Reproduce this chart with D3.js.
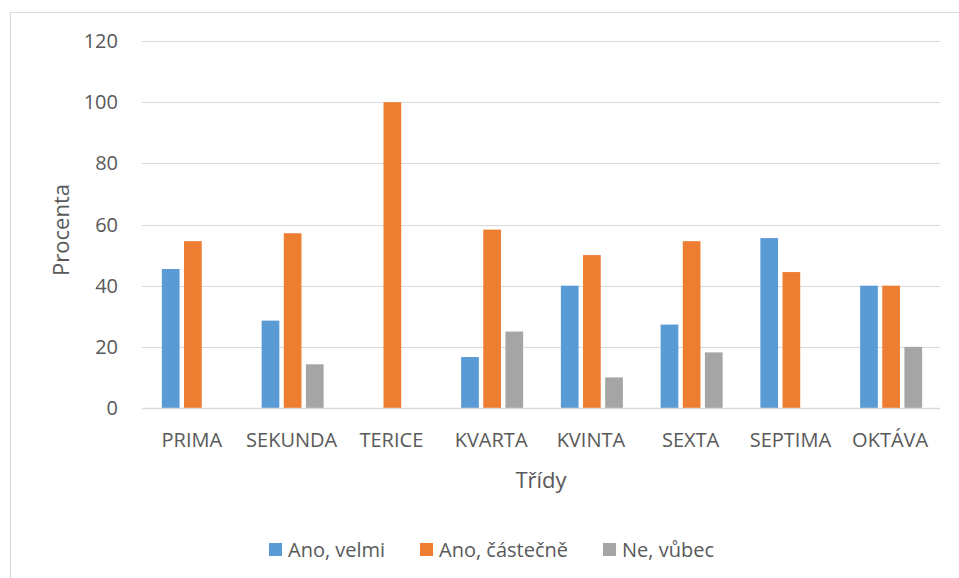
<!DOCTYPE html>
<html>
<head>
<meta charset="utf-8">
<script src="https://cdn.jsdelivr.net/npm/d3@7"></script>
<style>
  body { margin: 0; background: #fff; }
  text { font-family: "Open Sans", sans-serif; fill: #595959; }
</style>
</head>
<body>
<svg id="chart" width="959" height="578"></svg>
<script>
// data
let categories = ["PRIMA","SEKUNDA","TERICE","KVARTA","KVINTA","SEXTA","SEPTIMA","OKTÁVA"]
let series = ["Ano, velmi","Ano, částečně","Ne, vůbec"]
let anoVelmi    = [45.45, 28.57, 0,   16.67, 40, 27.27, 55.56, 40]
let anoCastecne = [54.55, 57.14, 100, 58.33, 50, 54.55, 44.44, 40]
let neVubec     = [0,     14.29, 0,   25,    10, 18.18, 0,     20]
let yTicks = [0,20,40,60,80,100,120]
let colors = ["#5b9bd5","#ed7d31","#a5a5a5"]

let values = [anoVelmi, anoCastecne, neVubec]
let rows = []
categories.forEach(function (c,i){
    series.forEach(function (s,j){
        rows.push({cat:c, ser:s, v:values[j][i]})
    })
})

let svg = d3.select("#chart")

// chart frame
svg.append("rect")
    .attr("x",10.5).attr("y",12.5)
    .attr("width",960).attr("height",580)
    .attr("fill","none").attr("stroke","#d9d9d9")

let plotLeft=142, plotRight=940, plotTop=41, plotBottom=408

let x0 = d3.scaleBand().domain(categories).range([plotLeft,plotRight])
let groupW = 62
let x1 = d3.scaleBand().domain(series).range([0,groupW]).paddingInner(0.2)
let y = d3.scaleLinear().domain([0,120]).range([plotBottom,plotTop])

// gridlines
svg.append("g").selectAll("line").data(yTicks.slice(1)).enter().append("line")
    .attr("x1",plotLeft).attr("x2",plotRight)
    .attr("y1",function (d){return Math.round(y(d))+0.5})
    .attr("y2",function (d){return Math.round(y(d))+0.5})
    .attr("stroke","#d9d9d9").attr("stroke-width",1)

// bars
svg.append("g").selectAll("rect").data(rows).enter().append("rect")
    .attr("x",function (d){return x0(d.cat)+(x0.bandwidth()-groupW)/2+1+x1(d.ser)})
    .attr("y",function (d){return y(d.v)})
    .attr("width",x1.bandwidth())
    .attr("height",function (d){return y(0)-y(d.v)})
    .attr("fill",function (d){return colors[series.indexOf(d.ser)]})

// x axis line
svg.append("line")
    .attr("x1",plotLeft).attr("x2",plotRight)
    .attr("y1",Math.round(y(0))+0.5).attr("y2",Math.round(y(0))+0.5)
    .attr("stroke","#d9d9d9").attr("stroke-width",1.5)

// y tick labels
svg.append("g").selectAll("text").data(yTicks).enter().append("text")
    .attr("x",118)
    .attr("y",function (d){return y(d)})
    .attr("dy","0.35em")
    .attr("text-anchor","end")
    .style("font-size","20px")
    .text(function (d){return d})

// x tick labels
svg.append("g").selectAll("text").data(categories).enter().append("text")
    .attr("x",function (d){return x0(d)+x0.bandwidth()/2})
    .attr("y",447)
    .attr("text-anchor","middle")
    .style("font-size","20px")
    .text(function (d){return d})

// axis titles
svg.append("text")
    .attr("transform","translate(69,230) rotate(-90)")
    .attr("text-anchor","middle")
    .style("font-size","22px")
    .text("Procenta")

svg.append("text")
    .attr("x",541).attr("y",488)
    .attr("text-anchor","middle")
    .style("font-size","22px")
    .text("Třídy")

// legend
let legendX = [269, 420, 603]
let legend = svg.append("g").selectAll("g").data(series).enter().append("g")
    .attr("transform",function (d,i){return `translate(${legendX[i]},543)`})
legend.append("rect")
    .attr("width",13).attr("height",13)
    .attr("fill",function (d,i){return colors[i]})
legend.append("text")
    .attr("x",19).attr("y",7)
    .attr("dy","0.35em")
    .style("font-size","20px")
    .text(function (d){return d})
</script>
</body>
</html>
